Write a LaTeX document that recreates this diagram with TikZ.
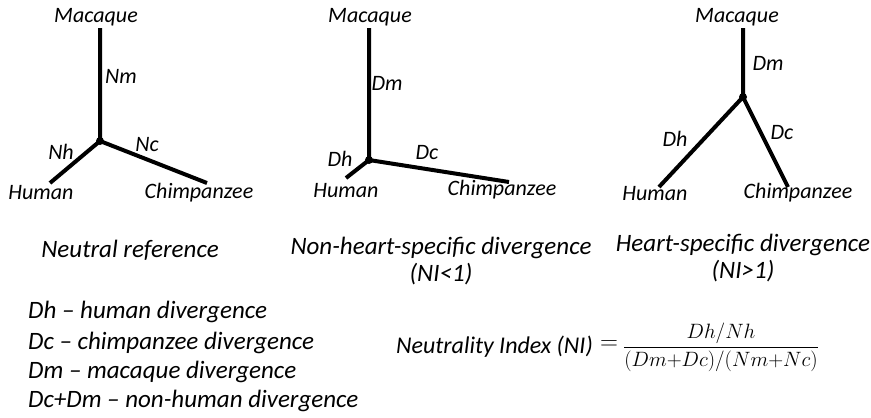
\documentclass[tikz,border=0pt]{standalone}
\usepackage{fontspec}
\setmainfont{Carlito}
\begin{document}
\begin{tikzpicture}[x=1pt,y=-1pt,
  branch/.style={line width=4pt},
  junc/.style={circle,fill=black,inner sep=0pt,minimum size=8pt},
  lbl/.style={inner sep=0pt,font=\fontsize{22}{24}\selectfont\itshape},
  captext/.style={inner sep=0pt,align=center,font=\fontsize{25}{27}\selectfont\itshape},
  leg/.style={inner sep=0pt,anchor=west,font=\fontsize{25}{28}\selectfont\itshape}]
\useasboundingbox (0,0) rectangle (871,418);
% Tree 1
\node[junc] (j1) at (100,141) {};
\coordinate (m1) at (100,28);
\coordinate (h1) at (50,183);
\coordinate (c1) at (207,183);
\draw[branch] (m1) -- (j1.center) -- (h1);
\draw[branch] (j1.center) -- (c1);
\node[lbl] (tm1) at (96,17) {Macaque};
\node[lbl] (tnm) at (121,76) {Nm};
\node[lbl] (tnh) at (61,152) {Nh};
\node[lbl] (tnc) at (147,145) {Nc};
\node[lbl] (th1) at (41,193) {Human};
\node[lbl] (tc1) at (199,193) {Chimpanzee};
% Tree 2
\node[junc] (j2) at (369,160) {};
\coordinate (m2) at (369,28);
\coordinate (h2) at (346,178);
\coordinate (c2) at (509,182);
\draw[branch] (m2) -- (j2.center) -- (h2);
\draw[branch] (j2.center) -- (c2);
\node[lbl] (tm2) at (370,17) {Macaque};
\node[lbl] (tdm2) at (387,83) {Dm};
\node[lbl] (tdh2) at (340,159) {Dh};
\node[lbl] (tdc2) at (427,153) {Dc};
\node[lbl] (th2) at (346,191) {Human};
\node[lbl] (tc2) at (502,190) {Chimpanzee};
% Tree 3
\node[junc] (j3) at (743,97) {};
\coordinate (m3) at (743,28);
\coordinate (h3) at (659,187);
\coordinate (c3) at (788,187);
\draw[branch] (m3) -- (j3.center) -- (h3);
\draw[branch] (j3.center) -- (c3);
\node[lbl] (tm3) at (737,17) {Macaque};
\node[lbl] (tdm3) at (768,63) {Dm};
\node[lbl] (tdh3) at (675,139) {Dh};
\node[lbl] (tdc3) at (782,133) {Dc};
\node[lbl] (th3) at (655,194) {Human};
\node[lbl] (tc3) at (798,193) {Chimpanzee};
% Captions
\node[captext] (cap1) at (130,250) {Neutral reference};
\node[captext,anchor=north] (cap2) at (441,237) {Non-heart-specific divergence\\(NI{<}1)};
\node[captext,anchor=north] (cap3) at (743,234) {Heart-specific divergence\\(NI{>}1)};
% Legend
\node[leg] (l1) at (28,312) {Dh – human divergence};
\node[leg] (l2) at (28,343) {Dc – chimpanzee divergence};
\node[leg] (l3) at (28,372) {Dm – macaque divergence};
\node[leg] (l4) at (28,401) {Dc+Dm – non-human divergence};
% Formula
\node[inner sep=0pt,anchor=east,font=\fontsize{24}{26}\selectfont\itshape] (ni) at (593,347) {Neutrality Index (NI)};
\node[inner sep=0pt,font=\fontsize{30}{30}\selectfont] (eq) at (609,345) {$=$};
\node[inner sep=0pt,font=\fontsize{21}{25}\selectfont] (fr) at (721,347)
  {$\displaystyle\frac{Dh/Nh}{(Dm{+}Dc)/(Nm{+}Nc)}$};
\end{tikzpicture}
\end{document}
